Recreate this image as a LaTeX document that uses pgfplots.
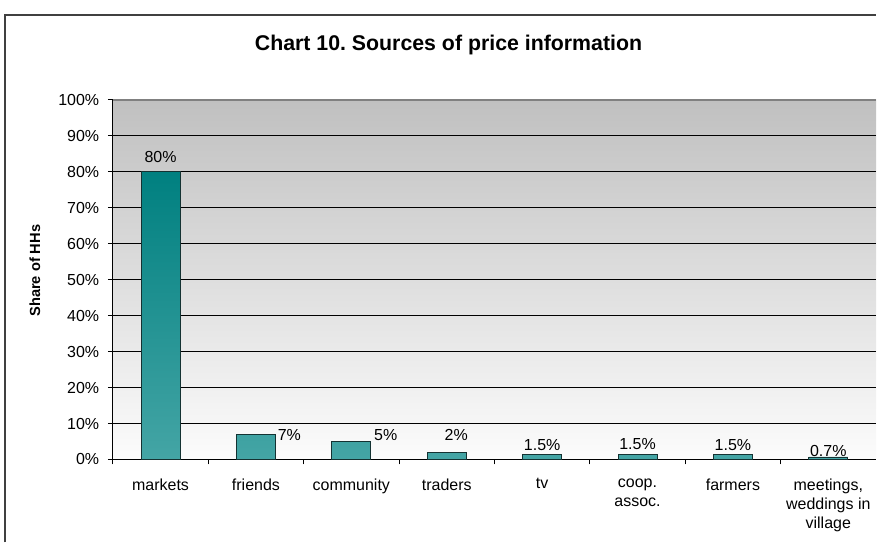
\documentclass[border=0pt]{standalone}
\usepackage{pgfplots}
\pgfplotsset{compat=1.18}
\usepackage{fontspec}
\setmainfont{Liberation Sans}
\frenchspacing
\definecolor{bartop}{RGB}{0,128,128}
\definecolor{barbot}{RGB}{68,165,165}
\definecolor{barline}{RGB}{20,50,50}
\definecolor{bgtop}{RGB}{192,192,192}
\definecolor{bgbot}{RGB}{252,252,252}
\definecolor{frame}{RGB}{64,64,64}

\begin{document}
\begin{tikzpicture}[x=0.75pt,y=0.75pt]
\fill[white] (0,0) rectangle (877,543);
\draw[frame, line width=1.5pt] (5,0) |- (877,528);
\node[font=\bfseries\fontsize{16}{19}\selectfont] at (449,498) {Chart 10. Sources of price information};
\node[font=\bfseries\fontsize{11}{13}\selectfont, rotate=90] at (35,272) {Share of HHs};
\begin{axis}[
  at={(84.75pt,62.25pt)}, anchor=south west,
  width=573pt, height=270pt, scale only axis,
  xmin=0, xmax=8, ymin=0, ymax=100,
  axis x line*=bottom, axis y line*=left,
  axis line style={black, line width=0.75pt},
  axis background/.style={top color=bgtop, bottom color=bgbot},
  ybar, bar width=29.25pt,
  ytick={0,10,...,100},
  yticklabel={\pgfmathprintnumber{\tick}\%},
  ymajorgrids, grid style={black, line width=0.75pt},
  xtick={0.5,1.5,...,7.5},
  xticklabels={markets, friends, community, traders, tv, {coop.\\assoc.}, farmers, {meetings,\\weddings in\\village}},
  minor xtick={0,1,...,7},
  tick align=outside,
  major tick length=3.75pt, minor tick length=3.75pt,
  x tick style={draw=none},
  minor x tick style={draw=black, line width=0.75pt},
  y tick style={black, line width=0.75pt},
  tick label style={font=\fontsize{12}{14.3}\selectfont},
  yticklabel style={xshift=-3pt},
  xticklabel style={align=center, yshift=-7pt},
  /pgf/number format/assume math mode=true,
]
\addplot[draw=barline, line width=0.6pt, top color=bartop, bottom color=barbot]
  coordinates {(0.5,80) (1.5,7) (2.5,5) (3.5,2) (4.5,1.5) (5.5,1.5) (6.5,1.5) (7.5,0.7)};
\draw[gray, line width=1pt] (axis cs:0,100) -- (axis cs:8,100);
\begin{scope}[font=\fontsize{12}{14}\selectfont]
\node at (axis cs:0.5,84.2) {80\%};
\node at (axis cs:1.85,6.7) {7\%};
\node at (axis cs:2.86,6.7) {5\%};
\node at (axis cs:3.6,6.7) {2\%};
\node at (axis cs:4.5,3.9) {1.5\%};
\node at (axis cs:5.5,4.2) {1.5\%};
\node at (axis cs:6.5,3.9) {1.5\%};
\node at (axis cs:7.5,2.3) {0.7\%};
\end{scope}
\end{axis}
\end{tikzpicture}
\end{document}
